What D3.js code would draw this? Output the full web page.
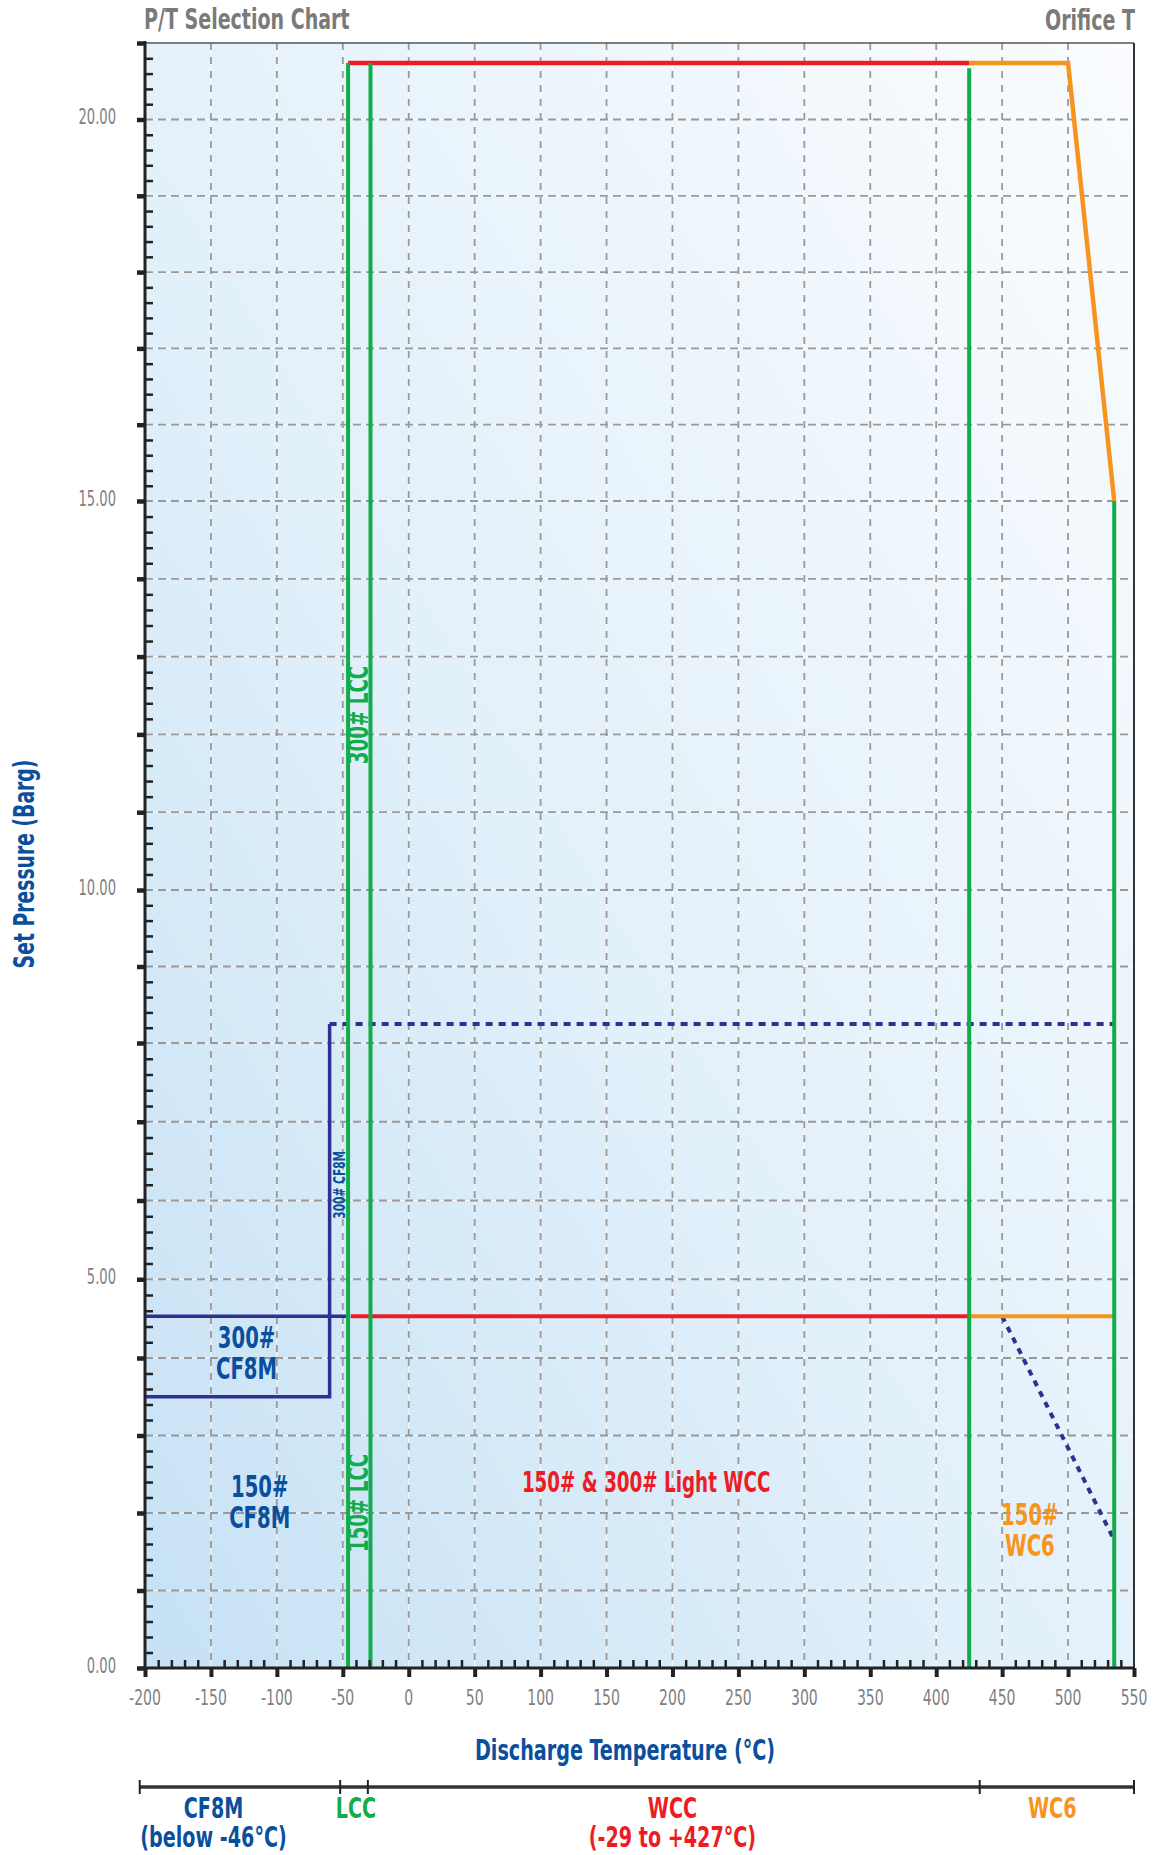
<!DOCTYPE html>
<html>
<head>
<meta charset="utf-8">
<script src="https://cdn.jsdelivr.net/npm/d3@7/dist/d3.min.js"></script>
<style>
  html, body { margin: 0; padding: 0; background: #fff; }
  svg { display: block; }
  .cond { font-family: "Liberation Sans Narrow", "DejaVu Sans Condensed", "Roboto", sans-serif; }
</style>
</head>
<body>
<svg id="chart" width="1155" height="1855"></svg>
<script>
// ---------------- data ----------------
const xTickValues = [-200, -150, -100, -50, 0, 50, 100, 150, 200, 250, 300, 350, 400, 450, 500, 550];
const yTickLabels = [0, 5, 10, 15, 20];
const xDomain = [-200, 550];
// the original's pressure axis is slightly irregular: calibration points (barg)
const yCalib = [0, 4, 8, 10, 15, 20, 21];

// Boundary lines (temperature °C, pressure barg)
const redTop       = [[-46, 20.74], [425, 20.74]];
const orangeTop    = [[425, 20.74], [500, 20.74], [535, 15.0]];
const greenLines   = [{t: -46, top: 20.74}, {t: -29, top: 20.74}, {t: 425, top: 20.67}, {t: 535, top: 15.0}];
const blueSolidTop = [[-200, 4.53], [-46, 4.53]];
const blueBox      = [[-200, 3.5], [-60, 3.5], [-60, 8.25]];
const blueDotted   = [[-60, 8.25], [535, 8.25]];
const redLow       = [[-44, 4.53], [425, 4.53]];
const orangeLow    = [[425, 4.53], [535, 4.53]];
const blueDiag     = [[450, 4.53], [535, 1.65]];

// Material bar below the chart (°C boundaries)
const barBounds = [-204, -52, -31, 433, 550];
const barLabels = [
  {t: -148, lines: ["CF8M", "(below -46°C)"], color: "#0a4f9e"},
  {t: -40,  lines: ["LCC"], color: "#13ac4a"},
  {t: 200,  lines: ["WCC", "(-29 to +427°C)"], color: "#ed1c24"},
  {t: 488,  lines: ["WC6"], color: "#f7941d"}
];

// In-plot labels (temperature, pressure)
const plotLabels = [
  {t: -123, p: 4.13, lines: ["300#", "CF8M"], color: "#0a4f9e", size: 29.5},
  {t: -113, p: 2.21, lines: ["150#", "CF8M"], color: "#0a4f9e", size: 29.5},
  {t: 180,  p: 2.27, lines: ["150# & 300# Light WCC"], color: "#ed1c24", size: 27.5},
  {t: 471,  p: 1.85, lines: ["150#", "WC6"], color: "#f7941d", size: 29.5}
];
const rotLabels = [
  {t: -37.5, p: 12.25, text: "300# LCC", color: "#13ac4a", size: 27.5},
  {t: -37.5, p: 2.13,  text: "150# LCC", color: "#13ac4a", size: 27.5},
  {t: -52.5, p: 6.2,   text: "300# CF8M", color: "#0a4f9e", size: 16}
];

// ---------------- layout ----------------
const L = 145, R = 1134, T = 43, B = 1668;
const SX = 0.74; // horizontal condensing of text
const svg = d3.select("#chart");
const x = d3.scaleLinear().domain(xDomain).range([L, R]);
const y = d3.scaleLinear().domain(yCalib).range([B, 1358, 1043, 890, 501, 119.5, T]);

const BLUE = "#0a4f9e", NAVY = "#2e3192", GREEN = "#13ac4a", RED = "#ed1c24", ORANGE = "#f7941d", GRAY = "#7a7a7a";

function ctext(parent, px, py, opts) {
  const o = Object.assign({anchor: "start", size: 20, weight: "normal", color: GRAY, rotate: 0, sx: SX, lines: null, lh: 0, text: ""}, opts);
  const g = parent.append("g").attr("transform", `translate(${px},${py}) rotate(${o.rotate}) scale(${o.sx},1)`);
  const t = g.append("text").attr("class", "cond")
    .attr("text-anchor", o.anchor).attr("fill", o.color)
    .attr("font-size", o.size).attr("font-weight", o.weight);
  if (o.baseline) t.attr("dominant-baseline", o.baseline);
  if (o.lines) {
    o.lines.forEach((s, i) => t.append("tspan").attr("x", 0).attr("dy", i === 0 ? 0 : o.lh).text(s));
  } else {
    t.text(o.text);
  }
  return g;
}

// background gradient
const defs = svg.append("defs");
const grad = defs.append("linearGradient").attr("id", "bg")
  .attr("x1", "0%").attr("y1", "100%").attr("x2", "100%").attr("y2", "0%");
grad.append("stop").attr("offset", "0%").attr("stop-color", "#c6e1f5");
grad.append("stop").attr("offset", "45%").attr("stop-color", "#e2f0fa");
grad.append("stop").attr("offset", "100%").attr("stop-color", "#fafcfe");
svg.append("rect").attr("x", L).attr("y", T).attr("width", R - L).attr("height", B - T).attr("fill", "url(#bg)");

// grid
const g = svg.append("g");
const vGrid = d3.range(-150, 550, 50);
const hGrid = d3.range(1, 21, 1);
g.selectAll(".vgw").data(vGrid).join("line")
  .attr("x1", d => x(d)).attr("x2", d => x(d)).attr("y1", T).attr("y2", B)
  .attr("stroke", "#fff").attr("stroke-opacity", 0.7).attr("stroke-width", 1);
g.selectAll(".hgw").data(hGrid).join("line")
  .attr("x1", L).attr("x2", R).attr("y1", d => y(d)).attr("y2", d => y(d))
  .attr("stroke", "#fff").attr("stroke-opacity", 0.7).attr("stroke-width", 1);
g.selectAll(".vg").data(vGrid).join("line")
  .attr("x1", d => x(d)).attr("x2", d => x(d)).attr("y1", T).attr("y2", B)
  .attr("stroke", "#999").attr("stroke-width", 1.8).attr("stroke-dasharray", "7,7");
g.selectAll(".hg").data(hGrid).join("line")
  .attr("x1", L).attr("x2", R).attr("y1", d => y(d)).attr("y2", d => y(d))
  .attr("stroke", "#999").attr("stroke-width", 1.8).attr("stroke-dasharray", "8,5");

// frame top and right
svg.append("line").attr("x1", L).attr("x2", R).attr("y1", T).attr("y2", T).attr("stroke", "#555").attr("stroke-width", 1.5);
svg.append("line").attr("x1", R).attr("x2", R).attr("y1", T).attr("y2", B).attr("stroke", "#333").attr("stroke-width", 2);

// lines
const line = d3.line().x(d => x(d[0])).y(d => y(d[1]));
const lines = svg.append("g").attr("fill", "none");
lines.append("path").datum(blueSolidTop).attr("d", line).attr("stroke", NAVY).attr("stroke-width", 3.5);
lines.append("path").datum(blueBox).attr("d", line).attr("stroke", NAVY).attr("stroke-width", 3.5).attr("stroke-linejoin", "miter");
lines.append("path").datum(blueDotted).attr("d", line).attr("stroke", NAVY).attr("stroke-width", 4).attr("stroke-dasharray", "7,6");
lines.append("path").datum(blueDiag).attr("d", line).attr("stroke", NAVY).attr("stroke-width", 4).attr("stroke-dasharray", "6,6");
lines.append("path").datum(redTop).attr("d", line).attr("stroke", RED).attr("stroke-width", 4.5);
lines.append("path").datum(orangeTop).attr("d", line).attr("stroke", ORANGE).attr("stroke-width", 4.5).attr("stroke-linejoin", "miter");
lines.append("path").datum(redLow).attr("d", line).attr("stroke", RED).attr("stroke-width", 4);
lines.append("path").datum(orangeLow).attr("d", line).attr("stroke", ORANGE).attr("stroke-width", 4);
lines.selectAll(".gl").data(greenLines).join("line")
  .attr("x1", d => x(d.t)).attr("x2", d => x(d.t))
  .attr("y1", d => y(d.top)).attr("y2", y(0))
  .attr("stroke", GREEN).attr("stroke-width", 4);

// axes
const yAxisMajor = d3.axisLeft(y).tickValues(d3.range(0, 22, 1)).tickSize(9).tickFormat("");
const yAxisMinor = d3.axisRight(y).tickValues(d3.range(0, 21.01, 0.2).filter(v => Math.abs(v - Math.round(v)) > 0.01)).tickSize(8).tickFormat("");
const ya1 = svg.append("g").attr("transform", `translate(${L},0)`).call(yAxisMinor);
ya1.select(".domain").remove();
ya1.selectAll("line").attr("stroke", "#222").attr("stroke-width", 2.5);
const ya2 = svg.append("g").attr("transform", `translate(${L + 1},0)`).call(yAxisMajor);
ya2.select(".domain").remove();
ya2.selectAll("line").attr("stroke", "#222").attr("stroke-width", 4.5);
svg.append("line").attr("x1", L).attr("x2", L).attr("y1", T - 2).attr("y2", B + 2).attr("stroke", "#222").attr("stroke-width", 3);

const xAxisMajor = d3.axisBottom(x).tickValues(xTickValues).tickSize(9).tickFormat("");
const xAxisMinor = d3.axisTop(x).tickValues(d3.range(-200, 551, 10).filter(v => v % 50 !== 0)).tickSize(8).tickFormat("");
const xa1 = svg.append("g").attr("transform", `translate(0,${B})`).call(xAxisMinor);
xa1.select(".domain").remove();
xa1.selectAll("line").attr("stroke", "#222").attr("stroke-width", 2.5);
const xa2 = svg.append("g").attr("transform", `translate(0,${B})`).call(xAxisMajor);
xa2.select(".domain").remove();
xa2.selectAll("line").attr("stroke", "#222").attr("stroke-width", 4);
svg.append("line").attr("x1", L - 2).attr("x2", R + 1).attr("y1", B).attr("y2", B).attr("stroke", "#222").attr("stroke-width", 3);

// tick labels
const tl = svg.append("g");
xTickValues.forEach(v => ctext(tl, x(v), B + 37, {text: String(v), anchor: "middle", size: 20.5, color: "#808080", sx: 0.76}));
yTickLabels.forEach(v => ctext(tl, 116, y(v) + 4.5, {text: d3.format(".2f")(v), anchor: "end", size: 20.5, color: "#808080", sx: 0.71}));

// titles
ctext(svg, 144, 29, {text: "P/T Selection Chart", size: 29, weight: "bold", color: GRAY, sx: 0.73});
ctext(svg, 1135, 30, {text: "Orifice T", anchor: "end", size: 29, weight: "bold", color: GRAY, sx: 0.73});
ctext(svg, 34, 864, {text: "Set Pressure (Barg)", anchor: "middle", size: 27.5, weight: "bold", color: BLUE, rotate: -90, sx: 0.76});
ctext(svg, 625, 1760, {text: "Discharge Temperature (°C)", anchor: "middle", size: 29, weight: "bold", color: BLUE, sx: 0.735});

// in-plot labels
plotLabels.forEach(lb => ctext(svg, x(lb.t), y(lb.p), {lines: lb.lines, lh: 31, anchor: "middle", size: lb.size, weight: "bold", color: lb.color}));
rotLabels.forEach(lb => ctext(svg, x(lb.t), y(lb.p), {text: lb.text, anchor: "middle", baseline: "central", size: lb.size, weight: "bold", color: lb.color, rotate: -90}));

// material bar
const barY = 1787;
svg.append("line").attr("x1", x(barBounds[0])).attr("x2", x(barBounds[barBounds.length - 1]))
  .attr("y1", barY).attr("y2", barY).attr("stroke", "#333").attr("stroke-width", 3.5);
svg.append("g").selectAll("line").data(barBounds).join("line")
  .attr("x1", d => x(d)).attr("x2", d => x(d)).attr("y1", barY - 7).attr("y2", barY + 7)
  .attr("stroke", "#222").attr("stroke-width", 2);
barLabels.forEach(lb => ctext(svg, x(lb.t), 1818, {lines: lb.lines, lh: 29, anchor: "middle", size: 28, weight: "bold", color: lb.color, sx: 0.76}));
</script>
</body>
</html>
